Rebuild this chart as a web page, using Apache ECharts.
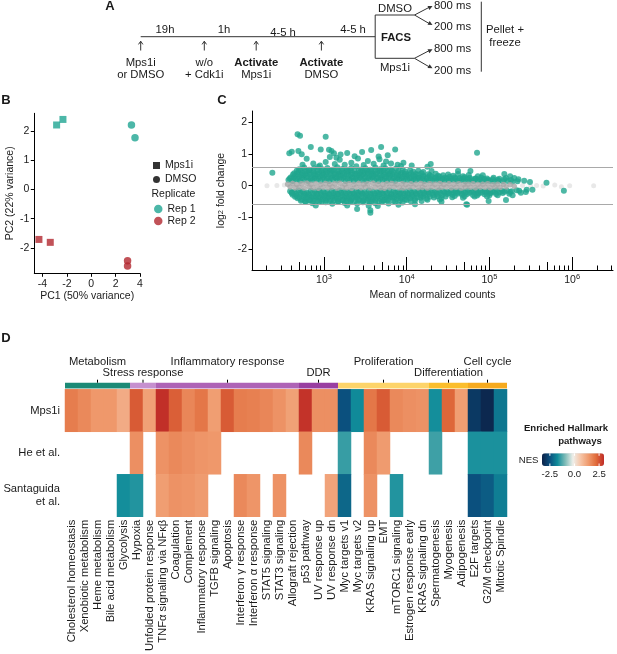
<!DOCTYPE html>
<html><head><meta charset="utf-8">
<script src="https://cdn.jsdelivr.net/npm/echarts@6/dist/echarts.min.js"></script>
<style>html,body{margin:0;padding:0;background:#fff}#chart{width:617px;height:654px}</style>
</head><body><div id="chart"></div>
<script>
// ---------------- Panel A (schematic) ----------------
const timelineDurations = ['19h', '1h', '4-5 h', '4-5 h'];
const timelineEvents = [['Mps1i', 'or DMSO'], ['w/o', '+ Cdk1i'], ['Activate', 'Mps1i'], ['Activate', 'DMSO']];
const eventBold = [false, false, true, true];
const facsArms = ['DMSO', 'FACS', 'Mps1i'];
const exposures = ['800 ms', '200 ms', '800 ms', '200 ms'];
const finalStep = ['Pellet +', 'freeze'];

// ---------------- Panel B (PCA) ----------------
const pcaTreatment = ['Mps1i', 'Mps1i', 'DMSO', 'DMSO', 'Mps1i', 'Mps1i', 'DMSO', 'DMSO'];
const pcaReplicate = ['Rep 1', 'Rep 1', 'Rep 1', 'Rep 1', 'Rep 2', 'Rep 2', 'Rep 2', 'Rep 2'];
const pcaPC1 = [-2.84, -2.32, 3.30, 3.59, -4.29, -3.36, 2.98, 2.98];
const pcaPC2 = [2.21, 2.40, 2.21, 1.77, -1.71, -1.81, -2.44, -2.62];
const pcaTicksX = [-4, -2, 0, 2, 4];
const pcaTicksY = [-2, -1, 0, 1, 2];
const replicateNames = ['Rep 1', 'Rep 2'];
const replicateColors = ['#1fa592', '#b1272e'];

// ---------------- Panel C (MA plot) : [log10 mean of normalized counts, log2 fold change] ----------------
const maSigPoints = [
 [2.57,0.18],[2.62,0.15],[2.66,0.2],[2.71,0.16],[2.76,0.19],[2.81,0.15],[2.86,0.18],[2.91,0.2],[2.96,0.16],[3.01,0.18],[3.06,0.15],[3.11,0.19],[3.16,0.17],[3.21,0.2],[3.26,0.15],[3.31,0.18],[3.36,0.16],[3.41,0.19],[3.46,0.17],[3.51,0.15],[3.56,0.2],[3.61,0.17],[3.66,0.15],[3.71,0.19],[3.76,0.16],[3.81,0.18],[3.86,0.15],[3.91,0.2],[3.96,0.16],[4.01,0.18],[4.06,0.15],[4.11,0.17],[4.16,0.19],[4.21,0.15],[4.26,0.17],[4.31,0.16],[4.36,0.18],[4.41,0.15],[4.46,0.17],[4.51,0.16],[4.56,0.18],[4.61,0.15],[4.66,0.17],[4.71,0.14],[4.76,0.16],[4.81,0.15],[4.86,0.17],[4.91,0.14],[4.96,0.16],[5.01,0.15],[5.06,0.13],[5.11,0.16],[5.16,0.14],[5.22,0.15],[5.28,0.13],[5.34,0.14],
 [2.585,0.23],[2.635,0.25],[2.685,0.22],[2.735,0.24],[2.785,0.26],[2.835,0.22],[2.885,0.24],[2.935,0.23],[2.985,0.25],[3.035,0.22],[3.085,0.24],[3.135,0.26],[3.185,0.23],[3.235,0.25],[3.285,0.22],[3.335,0.24],[3.385,0.23],[3.435,0.25],[3.485,0.22],[3.535,0.24],[3.585,0.26],[3.635,0.23],[3.685,0.24],[3.735,0.22],[3.785,0.25],[3.835,0.23],[3.885,0.24],[3.935,0.22],[3.985,0.25],[4.035,0.23],[4.085,0.21],[4.135,0.24],[4.185,0.22],[4.235,0.23],[4.285,0.21],[4.335,0.23],[4.385,0.22],[4.435,0.21],[4.485,0.23],[4.535,0.21],[4.585,0.22],[4.635,0.2],[4.685,0.22],[4.735,0.21],[4.785,0.2],[4.835,0.22],[4.885,0.2],[4.935,0.21],[4.985,0.19],[5.04,0.2],[5.1,0.19],[5.18,0.2],[5.26,0.18],
 [2.6,0.27],[2.65,0.31],[2.7,0.28],[2.75,0.33],[2.8,0.29],[2.85,0.26],[2.9,0.31],[2.95,0.29],[3.0,0.33],[3.05,0.28],[3.1,0.3],[3.15,0.27],[3.2,0.32],[3.25,0.29],[3.3,0.31],[3.35,0.27],[3.4,0.3],[3.45,0.33],[3.5,0.28],[3.55,0.3],[3.6,0.32],[3.65,0.27],[3.7,0.3],[3.75,0.29],[3.8,0.32],[3.85,0.27],[3.9,0.3],[3.95,0.28],[4.0,0.31],[4.05,0.27],[4.1,0.29],[4.15,0.26],[4.2,0.3],[4.25,0.27],[4.3,0.29],[4.35,0.26],[4.4,0.28],[4.46,0.25],[4.52,0.28],[4.58,0.26],[4.64,0.24],[4.7,0.27],[4.76,0.25],[4.83,0.23],[4.9,0.26],[4.97,0.23],[5.05,0.25],[5.12,0.22],[5.2,0.24],
 [2.625,0.35],[2.675,0.37],[2.725,0.34],[2.775,0.36],[2.825,0.38],[2.875,0.35],[2.925,0.37],[2.975,0.34],[3.025,0.36],[3.075,0.38],[3.125,0.35],[3.175,0.37],[3.225,0.34],[3.275,0.36],[3.325,0.35],[3.375,0.37],[3.425,0.34],[3.475,0.36],[3.525,0.38],[3.575,0.35],[3.625,0.37],[3.675,0.34],[3.725,0.36],[3.775,0.35],[3.825,0.37],[3.875,0.34],[3.925,0.36],[3.975,0.35],[4.025,0.34],[4.08,0.33],[4.14,0.35],[4.2,0.32],[4.28,0.33],[4.38,0.31],[4.44,0.33],[4.56,0.31],[4.68,0.3],[4.86,0.3],
 [2.64,0.39],[2.69,0.43],[2.74,0.4],[2.79,0.45],[2.84,0.41],[2.89,0.38],[2.94,0.44],[2.99,0.4],[3.04,0.42],[3.09,0.46],[3.14,0.39],[3.19,0.42],[3.24,0.4],[3.29,0.45],[3.34,0.41],[3.39,0.38],[3.44,0.43],[3.49,0.4],[3.54,0.44],[3.59,0.39],[3.64,0.42],[3.69,0.45],[3.74,0.4],[3.79,0.38],[3.84,0.42],[3.89,0.39],[3.94,0.41],[3.99,0.38],[4.05,0.4],[4.11,0.37],[4.18,0.39],[4.26,0.36],[4.35,0.38],[4.5,0.35],[4.62,0.37],[4.75,0.34],[4.92,0.33],
 [2.67,0.47],[2.72,0.49],[2.77,0.46],[2.82,0.48],[2.87,0.47],[2.92,0.49],[2.97,0.46],[3.02,0.48],[3.07,0.47],[3.12,0.49],[3.17,0.46],[3.22,0.48],[3.27,0.47],[3.32,0.49],[3.37,0.46],[3.42,0.48],[3.47,0.47],[3.52,0.49],[3.57,0.46],[3.62,0.48],[3.67,0.47],[3.72,0.49],[3.77,0.46],[3.82,0.47],[3.9,0.46],[3.98,0.45],[4.08,0.44],[4.2,0.43],
 [2.7,0.52],[2.76,0.57],[2.82,0.5],[2.88,0.55],[2.93,0.6],[2.98,0.52],[3.04,0.56],[3.1,0.5],[3.16,0.58],[3.22,0.53],[3.28,0.5],[3.33,0.56],[3.39,0.61],[3.45,0.51],[3.5,0.55],[3.56,0.5],[3.62,0.57],[3.68,0.52],[3.74,0.55],[3.8,0.5],[3.87,0.54],[3.95,0.51],[4.04,0.49],[4.14,0.47],[4.3,0.46],
 [2.74,0.66],[2.87,0.7],[2.95,0.64],[3.02,0.75],[3.13,0.68],[3.19,0.82],[3.25,0.66],[3.33,0.72],[3.41,0.86],[3.48,0.65],[3.53,0.78],[3.6,0.69],[3.67,0.83],[3.72,0.64],[3.81,0.7],[3.89,0.66],[3.93,0.62],[4.06,0.64],[4.25,0.6],[2.79,0.85],[3.07,0.9],[3.37,0.93],[3.15,0.88],
 [2.375,0.41],[2.68,1.62],[2.71,1.57],[3.02,1.54],[2.58,1.02],[2.61,1.07],[2.69,1.09],[2.73,0.99],[2.84,1.22],[2.96,1.14],[3.06,1.13],[3.09,1.09],[3.12,1.02],[3.2,0.98],[3.28,1.03],[3.46,1.06],[3.57,1.12],[3.69,1.22],[3.77,0.96],[3.86,1.14],[3.66,0.92],[3.75,0.76],[3.96,0.72],[4.29,0.68],[4.62,0.46],[4.77,0.46],[4.85,1.04],[5.18,0.37],[5.25,0.3],[5.3,0.24],[5.35,0.2],[5.42,0.16],[5.49,0.12],[5.69,0.09],
 [2.59,-0.17],[2.64,-0.2],[2.69,-0.15],[2.74,-0.18],[2.79,-0.21],[2.84,-0.16],[2.89,-0.19],[2.94,-0.15],[2.99,-0.18],[3.04,-0.2],[3.09,-0.16],[3.14,-0.19],[3.19,-0.15],[3.24,-0.18],[3.29,-0.2],[3.34,-0.16],[3.39,-0.19],[3.44,-0.17],[3.49,-0.2],[3.54,-0.15],[3.59,-0.18],[3.64,-0.2],[3.69,-0.16],[3.74,-0.19],[3.79,-0.15],[3.84,-0.18],[3.89,-0.2],[3.94,-0.16],[3.99,-0.18],[4.04,-0.15],[4.09,-0.19],[4.14,-0.17],[4.19,-0.15],[4.24,-0.18],[4.29,-0.16],[4.34,-0.19],[4.39,-0.15],[4.44,-0.17],[4.49,-0.19],[4.54,-0.15],[4.59,-0.17],[4.64,-0.16],[4.69,-0.18],[4.74,-0.15],[4.79,-0.17],[4.84,-0.14],[4.89,-0.16],[4.94,-0.18],[4.99,-0.15],[5.04,-0.17],[5.09,-0.14],[5.15,-0.16],[5.21,-0.15],[5.27,-0.17],[5.33,-0.14],
 [2.61,-0.23],[2.66,-0.25],[2.71,-0.22],[2.76,-0.24],[2.81,-0.26],[2.86,-0.23],[2.91,-0.25],[2.96,-0.22],[3.01,-0.24],[3.06,-0.26],[3.11,-0.23],[3.16,-0.25],[3.21,-0.22],[3.26,-0.24],[3.31,-0.23],[3.36,-0.25],[3.41,-0.22],[3.46,-0.24],[3.51,-0.26],[3.56,-0.23],[3.61,-0.25],[3.66,-0.22],[3.71,-0.24],[3.76,-0.23],[3.81,-0.25],[3.86,-0.22],[3.91,-0.24],[3.96,-0.23],[4.01,-0.25],[4.06,-0.22],[4.11,-0.24],[4.16,-0.22],[4.21,-0.23],[4.26,-0.21],[4.31,-0.23],[4.36,-0.22],[4.41,-0.24],[4.46,-0.21],[4.51,-0.23],[4.56,-0.22],[4.61,-0.21],[4.66,-0.23],[4.71,-0.21],[4.76,-0.22],[4.81,-0.2],[4.86,-0.22],[4.91,-0.21],[4.96,-0.2],[5.01,-0.22],[5.06,-0.2],[5.12,-0.21],[5.18,-0.19],[5.25,-0.2],
 [2.62,-0.28],[2.67,-0.32],[2.72,-0.27],[2.77,-0.31],[2.82,-0.29],[2.87,-0.33],[2.92,-0.27],[2.97,-0.3],[3.02,-0.32],[3.07,-0.28],[3.12,-0.31],[3.17,-0.27],[3.22,-0.3],[3.27,-0.33],[3.32,-0.28],[3.37,-0.31],[3.42,-0.29],[3.47,-0.27],[3.52,-0.32],[3.57,-0.29],[3.62,-0.31],[3.67,-0.27],[3.72,-0.3],[3.77,-0.33],[3.82,-0.28],[3.87,-0.3],[3.92,-0.27],[3.97,-0.31],[4.02,-0.28],[4.07,-0.3],[4.12,-0.27],[4.17,-0.31],[4.22,-0.28],[4.27,-0.26],[4.32,-0.29],[4.37,-0.27],[4.43,-0.3],[4.49,-0.26],[4.55,-0.28],[4.61,-0.25],[4.67,-0.28],[4.73,-0.26],[4.8,-0.29],[4.87,-0.25],[4.94,-0.27],[5.01,-0.24],[5.08,-0.26],[5.16,-0.23],[5.24,-0.25],
 [2.65,-0.35],[2.7,-0.37],[2.75,-0.34],[2.8,-0.36],[2.85,-0.38],[2.9,-0.35],[2.95,-0.37],[3.0,-0.34],[3.05,-0.36],[3.1,-0.35],[3.15,-0.37],[3.2,-0.34],[3.25,-0.36],[3.3,-0.38],[3.35,-0.35],[3.4,-0.37],[3.45,-0.34],[3.5,-0.36],[3.55,-0.35],[3.6,-0.37],[3.65,-0.34],[3.7,-0.36],[3.75,-0.38],[3.8,-0.35],[3.85,-0.36],[3.9,-0.34],[3.95,-0.37],[4.0,-0.35],[4.06,-0.34],[4.13,-0.36],[4.2,-0.33],[4.28,-0.35],[4.37,-0.33],[4.47,-0.34],[4.58,-0.32],[4.7,-0.33],[4.85,-0.31],[5.0,-0.3],
 [2.68,-0.39],[2.73,-0.43],[2.78,-0.4],[2.83,-0.45],[2.88,-0.41],[2.93,-0.38],[2.98,-0.43],[3.03,-0.4],[3.08,-0.44],[3.13,-0.39],[3.18,-0.42],[3.23,-0.46],[3.28,-0.4],[3.33,-0.43],[3.38,-0.38],[3.43,-0.42],[3.48,-0.45],[3.53,-0.4],[3.58,-0.43],[3.63,-0.39],[3.68,-0.42],[3.73,-0.45],[3.78,-0.4],[3.83,-0.38],[3.88,-0.42],[3.93,-0.4],[3.98,-0.43],[4.04,-0.39],[4.1,-0.41],[4.17,-0.38],[4.24,-0.4],[4.33,-0.37],[4.42,-0.39],[4.55,-0.36],[4.68,-0.38],[4.82,-0.34],[4.97,-0.33],[5.1,-0.3],
 [2.72,-0.47],[2.77,-0.49],[2.82,-0.46],[2.87,-0.48],[2.92,-0.47],[2.97,-0.49],[3.02,-0.46],[3.07,-0.48],[3.12,-0.47],[3.17,-0.49],[3.22,-0.46],[3.27,-0.48],[3.32,-0.47],[3.37,-0.49],[3.42,-0.46],[3.47,-0.48],[3.52,-0.47],[3.57,-0.49],[3.62,-0.46],[3.67,-0.48],[3.72,-0.47],[3.77,-0.46],[3.84,-0.48],[3.92,-0.46],[4.0,-0.45],[4.1,-0.46],[4.25,-0.44],[4.4,-0.43],
 [2.78,-0.51],[2.86,-0.55],[2.94,-0.5],[3.02,-0.52],[3.1,-0.57],[3.17,-0.51],[3.25,-0.54],[3.32,-0.5],[3.4,-0.56],[3.47,-0.52],[3.55,-0.5],[3.62,-0.55],[3.7,-0.51],[3.78,-0.56],[3.86,-0.5],[3.95,-0.53],[4.05,-0.49],[4.18,-0.48],[4.42,-0.5],[4.72,-0.58],
 [2.61,-0.21],[2.9,-0.62],[3.28,-0.62],[3.4,-0.73],[3.54,-0.63],[3.56,-0.77],[3.56,-0.85],[3.65,-0.64],[3.9,-0.6],[4.1,-0.58],[4.73,-0.6],[4.99,-0.48],[5.2,-0.45],[5.28,-0.3],[5.38,-0.22],[5.44,-0.2],[5.36,-0.16],[5.45,-0.13],[5.52,-0.13],[5.9,-0.16]
];
const maNsPoints = [
 [2.56,0.05],[2.62,0.07],[2.67,0.04],[2.73,0.06],[2.79,0.08],[2.84,0.05],[2.90,0.06],[2.96,0.04],[3.02,0.07],[3.07,0.05],[3.13,0.06],[3.19,0.08],[3.25,0.05],[3.30,0.06],[3.36,0.04],[3.42,0.07],[3.48,0.05],[3.53,0.06],[3.59,0.08],[3.65,0.05],[3.71,0.04],[3.76,0.06],[3.82,0.07],[3.88,0.05],[3.94,0.06],[3.99,0.04],[4.05,0.06],[4.11,0.05],[4.17,0.07],[4.22,0.04],[4.28,0.06],[4.34,0.05],[4.40,0.07],[4.45,0.04],[4.51,0.06],[4.57,0.05],[4.63,0.06],[4.69,0.04],[4.74,0.05],[4.80,0.06],[4.86,0.04],[4.92,0.05],[4.98,0.06],[5.04,0.03],[5.10,0.05],[5.17,0.04],[5.25,0.03],
 [2.59,-0.04],[2.65,-0.06],[2.70,-0.05],[2.76,-0.07],[2.82,-0.04],[2.87,-0.06],[2.93,-0.08],[2.99,-0.05],[3.05,-0.06],[3.10,-0.04],[3.16,-0.07],[3.22,-0.05],[3.27,-0.06],[3.33,-0.08],[3.39,-0.05],[3.45,-0.06],[3.50,-0.04],[3.56,-0.07],[3.62,-0.05],[3.68,-0.06],[3.73,-0.08],[3.79,-0.05],[3.85,-0.04],[3.91,-0.06],[3.96,-0.07],[4.02,-0.05],[4.08,-0.04],[4.14,-0.06],[4.19,-0.05],[4.25,-0.07],[4.31,-0.04],[4.37,-0.06],[4.42,-0.05],[4.48,-0.04],[4.54,-0.06],[4.60,-0.05],[4.66,-0.07],[4.71,-0.04],[4.77,-0.05],[4.83,-0.06],[4.89,-0.04],[4.95,-0.05],[5.01,-0.06],[5.07,-0.04],[5.13,-0.05],[5.20,-0.03],[5.30,-0.02]
];
const maLowCountPoints = [[2.31,0],[2.43,0.01],[2.52,0.02],[5.40,0.01],[5.50,-0.02],[5.57,0.01],[5.65,-0.01],[5.79,0.02],[5.87,-0.03],[5.97,0],[6.26,0]];
const maThresholds = [0.585, -0.585];
const maMajorTicks = [1e3, 1e4, 1e5, 1e6];
const maMidTicks = [500, 5000, 50000, 500000];
const maMinorTicks = [200,300,400,600,700,800,900,2000,3000,4000,6000,7000,8000,9000,20000,30000,40000,60000,70000,80000,90000,200000,300000,400000,600000,700000,800000,900000,2000000,3000000];
const maTicksY = [-2, -1, 0, 1, 2];

// ---------------- Panel D (heatmap) ----------------
const pathways = ['Cholesterol homeostasis','Xenobiotic metabolism','Heme metabolism','Bile acid metabolism','Glycolysis','Hypoxia','Unfolded protein response','TNFα signaling via NFκβ','Coagulation','Complement','Inflammatory response','TGFB signaling','Apoptosis','Interferon γ response','Interferon α response','STAT5 signaling','STAT3 signaling','Allograft rejection','p53 pathway','UV response up','UV response dn','Myc targets v1','Myc targets v2','KRAS signaling up','EMT','mTORC1 signaling','Estrogen response early','KRAS signaling dn','Spermatogenesis','Myogenesis','Adipogenesis','E2F targets','G2/M checkpoint','Mitotic Spindle'];
const studies = ['Mps1i', 'He et al.', 'Santaguida\net al.'];
const nesMps1i =      [1.9,1.7,1.45,1.45,1.1,2.4,1.3,2.95,2.35,1.75,2.0,1.35,2.4,1.9,1.85,1.75,1.55,1.3,2.9,1.6,1.6,-2.5,-1.75,2.0,2.4,1.7,1.6,1.55,-1.7,2.25,1.35,-2.9,-3.2,-2.0];
const nesHe =         [null,null,null,null,null,1.6,null,1.55,1.7,1.6,1.5,1.45,null,null,null,null,null,null,1.7,null,null,-1.45,null,1.7,1.4,null,null,null,-1.4,null,null,-1.65,-1.65,-1.65];
const nesSantaguida = [null,null,null,null,-1.7,-1.6,null,1.35,1.55,1.5,1.4,null,null,1.7,1.5,null,1.55,null,null,null,1.25,-2.2,null,1.55,null,-1.6,null,null,null,null,null,-2.5,-2.35,-1.9];
const nesRange = [-3.3, 3.0];
const nesTicks = [-2.5, 0, 2.5];
const nesColors = ['#0c2248','#0b4f7e','#108c9a','#7fbcb8','#efefea','#f6c4a6','#ef9a6d','#e06a3a','#bf2b27'];
const pathwayGroups = ['Metabolism','Stress response','Inflammatory response','DDR','Proliferation','Differentiation','Cell cycle'];
const groupSizes = [5, 2, 11, 3, 7, 3, 3];
const groupColors = ['#1b8a76','#c690cf','#ae63b6','#993fa1','#fdd46a','#fbbe2c','#f6aa1e'];
const groupLabelRow = [0, 1, 0, 1, 0, 1, 0];

// ---------------- build ----------------
const FONT = 'Liberation Sans, Arial, Helvetica, sans-serif';
const INK = '#1a1a1a';
function T(x, y, text, o) {
  o = o || {};
  return { type: 'text', x: x, y: y, silent: true, z: 10,
    style: { text: text, fontSize: o.fs || 11.3, fontWeight: o.bold ? 'bold' : 'normal', fontFamily: FONT,
      fill: INK, align: o.align || 'center', verticalAlign: 'middle' } };
}
function L(x1, y1, x2, y2, w) {
  return { type: 'line', silent: true, shape: { x1: x1, y1: y1, x2: x2, y2: y2 }, style: { stroke: '#333', lineWidth: w || 1 } };
}
function head(x1, y1, x2, y2, len, hw, filled) {
  const dx = x2 - x1, dy = y2 - y1, d = Math.hypot(dx, dy), ux = dx / d, uy = dy / d;
  const bx = x2 - ux * len, by = y2 - uy * len, nx = -uy, ny = ux;
  const pts = [[bx + nx * hw, by + ny * hw], [x2, y2], [bx - nx * hw, by - ny * hw]];
  return filled ? { type: 'polygon', silent: true, shape: { points: pts }, style: { fill: '#333' } }
                : { type: 'polyline', silent: true, shape: { points: pts }, style: { stroke: '#333', lineWidth: 1, fill: null } };
}
const G = [];
G.push(T(110, 6, 'A', { bold: true, fs: 13 }), T(6, 100, 'B', { bold: true, fs: 13 }), T(222, 100, 'C', { bold: true, fs: 13 }), T(6, 338.5, 'D', { bold: true, fs: 13 }));
const aY = 36.7, eventX = [140.7, 204.3, 256.2, 321.4], durX = [165, 224, 283, 353], durY = [30, 30, 32.5, 30];
G.push(L(140.7, aY, 375.2, aY));
timelineDurations.forEach((d, i) => G.push(T(durX[i], durY[i], d)));
timelineEvents.forEach((ev, i) => {
  G.push(L(eventX[i], 50.5, eventX[i], 41.5), head(eventX[i], 50.5, eventX[i], 41.2, 3.2, 2.2, false));
  G.push(T(eventX[i], 62.7, ev[0], { bold: eventBold[i] }), T(eventX[i], 75, ev[1]));
});
G.push(L(375.2, 15, 375.2, 58.3), L(375.2, 15, 414.5, 15), L(375.2, 58.3, 414.5, 58.3));
G.push(T(395, 9.3, facsArms[0]), T(396, 38.3, facsArms[1], { bold: true }), T(395, 68.3, facsArms[2]));
[[15, 6], [15, 25], [58.3, 49.3], [58.3, 68.3]].forEach((p, i) => {
  G.push(L(414.5, p[0], 430, p[1] + (p[0] - p[1]) * 0.1), head(414.5, p[0], 432.5, p[1], 4.5, 2.2, true));
  G.push(T(434, [6, 27.3, 49.3, 70.7][i], exposures[i], { align: 'left' }));
});
G.push(L(481.3, 1.7, 481.3, 71.7));
G.push(T(505, 30, finalStep[0]), T(505, 43.3, finalStep[1]));
G.push(T(151.5, 194.5, 'Replicate', { align: 'left', fs: 10.5 }));
G.push(T(566, 428.5, 'Enriched Hallmark', { bold: true, fs: 9.6 }), T(580, 441.7, 'pathways', { bold: true, fs: 9.6 }));
G.push(T(538.5, 460.5, 'NES', { align: 'right', fs: 9.6 }));
const barL = 542, barW = 62, barT = 453.3, barH = 12.7;
nesTicks.forEach(v => {
  const x = barL + (v - nesRange[0]) / (nesRange[1] - nesRange[0]) * barW;
  G.push({ type: 'line', silent: true, z: 20, shape: { x1: x, y1: barT, x2: x, y2: barT + 2.5 }, style: { stroke: '#fff', lineWidth: 1 } });
  G.push({ type: 'line', silent: true, z: 20, shape: { x1: x, y1: barT + barH - 2.5, x2: x, y2: barT + barH }, style: { stroke: '#fff', lineWidth: 1 } });
  G.push(T(x, 474.5, v.toFixed(1), { fs: 9.6 }));
});

function pcaSeries(rep, ci) {
  const data = [];
  pcaPC1.forEach((x, i) => {
    if (pcaReplicate[i] !== rep) return;
    const sq = pcaTreatment[i] === 'Mps1i';
    data.push({ value: [x, pcaPC2[i]], symbol: sq ? 'rect' : 'circle', symbolSize: sq ? 7 : 7.5 });
  });
  return { name: rep, type: 'scatter', xAxisIndex: 0, yAxisIndex: 0, data: data, itemStyle: { color: replicateColors[ci] } };
}
const heatData = [];
[nesMps1i, nesHe, nesSantaguida].forEach((row, r) => row.forEach((v, c) => { if (v !== null) heatData.push([c, r, v]); }));
const groupData = [];
let start = 0;
groupSizes.forEach((n, i) => { groupData.push([start, start + n - 1, i]); start += n; });

const log10 = v => Math.log10(v);
const axisText = { fontSize: 10.5, color: INK, fontFamily: FONT };
const blackLine = { onZero: false, lineStyle: { color: '#000', width: 1 } };

const option = {
  animation: false,
  textStyle: { fontFamily: FONT },
  grid: [
    { left: 34.3, top: 113.3, width: 105.7, height: 160 },
    { left: 252, top: 111, width: 361, height: 159 },
    { left: 65, top: 389.3, width: 442, height: 130.7 },
    { left: 65, top: 382.7, width: 442, height: 6.3 }
  ],
  xAxis: [
    { gridIndex: 0, type: 'value', min: -4.67, max: 4, position: 'bottom', splitLine: { show: false },
      axisLine: blackLine, axisTick: { customValues: pcaTicksX, length: 3.5, lineStyle: { color: '#000' } },
      axisLabel: Object.assign({ customValues: pcaTicksX, margin: 5 }, axisText),
      name: 'PC1 (50% variance)', nameLocation: 'middle', nameGap: 16.5, nameTextStyle: axisText },
    { gridIndex: 1, type: 'value', min: 2.129, max: 6.494, position: 'bottom', splitLine: { show: false },
      axisLine: blackLine, axisTick: { customValues: maMajorTicks.map(log10), inside: true, length: 13, lineStyle: { color: '#000' } },
      axisLabel: Object.assign({ customValues: maMajorTicks.map(log10), margin: 3, formatter: v => '10{sup|' + Math.round(v) + '}',
        rich: { sup: { fontSize: 7.5, padding: [0, 0, 6, 0], color: INK } } }, axisText),
      name: 'Mean of normalized counts', nameLocation: 'middle', nameGap: 19.5, nameTextStyle: axisText },
    { gridIndex: 1, type: 'value', min: 2.129, max: 6.494, position: 'bottom', splitLine: { show: false },
      axisLine: { show: false, onZero: false }, axisLabel: { show: false },
      axisTick: { customValues: maMidTicks.map(log10), inside: true, length: 8, lineStyle: { color: '#000' } } },
    { gridIndex: 1, type: 'value', min: 2.129, max: 6.494, position: 'bottom', splitLine: { show: false },
      axisLine: { show: false, onZero: false }, axisLabel: { show: false },
      axisTick: { customValues: maMinorTicks.map(log10), inside: true, length: 4.5, lineStyle: { color: '#000' } } },
    { gridIndex: 2, type: 'category', data: pathways, position: 'bottom', axisLine: { show: false }, axisTick: { show: false },
      axisLabel: { interval: 0, rotate: 90, margin: 3, fontSize: 11.2, color: INK, fontFamily: FONT } },
    { gridIndex: 3, type: 'category', data: pathways, show: false }
  ],
  yAxis: [
    { gridIndex: 0, type: 'value', min: -2.87, max: 2.61, splitLine: { show: false },
      axisLine: Object.assign({ show: true }, blackLine), axisTick: { show: true, customValues: pcaTicksY, length: 3.5, lineStyle: { color: '#000' } },
      axisLabel: Object.assign({ customValues: pcaTicksY, margin: 5 }, axisText),
      name: 'PC2 (22% variance)', nameLocation: 'middle', nameGap: 19, nameTextStyle: axisText },
    { gridIndex: 1, type: 'value', min: -2.65, max: 2.35, splitLine: { show: false },
      axisLine: Object.assign({ show: true }, blackLine), axisTick: { show: true, customValues: maTicksY, length: 3.5, lineStyle: { color: '#000' } },
      axisLabel: Object.assign({ customValues: maTicksY, margin: 5 }, axisText),
      name: 'log{sub|2} fold change', nameLocation: 'middle', nameGap: 18,
      nameTextStyle: Object.assign({ rich: { sub: { fontSize: 7.5, padding: [0, 0, 0, 0], color: INK } } }, axisText) },
    { gridIndex: 2, type: 'category', data: studies, inverse: true, axisLine: { show: false }, axisTick: { show: false },
      axisLabel: { margin: 5, fontSize: 11.2, lineHeight: 12.4, color: INK, fontFamily: FONT, align: 'right' } },
    { gridIndex: 3, type: 'value', min: 0, max: 1, show: false }
  ],
  legend: [
    { data: [{ name: 'Mps1i', icon: 'rect', itemStyle: { color: '#000' } }, { name: 'DMSO', icon: 'circle', itemStyle: { color: '#000' } }],
      orient: 'vertical', left: 153, top: 160, itemWidth: 7, itemHeight: 7, itemGap: 3, padding: 0, selectedMode: false,
      textStyle: { fontSize: 10.5, color: INK, fontFamily: FONT } },
    { data: [{ name: 'Rep 1', icon: 'circle' }, { name: 'Rep 2', icon: 'circle' }],
      orient: 'vertical', left: 154, top: 203.5, itemWidth: 8.5, itemHeight: 8.5, itemGap: 1, padding: 0, selectedMode: false,
      textStyle: { fontSize: 10.5, color: INK, fontFamily: FONT } }
  ],
  visualMap: {
    type: 'continuous', seriesIndex: 7, min: nesRange[0], max: nesRange[1], orient: 'horizontal',
    left: barL, top: barT, itemWidth: barH, itemHeight: barW, calculable: false, text: null, padding: 0,
    hoverLink: false, inRange: { color: nesColors }, textStyle: { fontSize: 0 }
  },
  series: [
    { name: 'Mps1i', type: 'scatter', data: [], xAxisIndex: 0, yAxisIndex: 0, itemStyle: { color: '#000' } },
    { name: 'DMSO', type: 'scatter', data: [], xAxisIndex: 0, yAxisIndex: 0, itemStyle: { color: '#000' } },
    pcaSeries('Rep 1', 0),
    pcaSeries('Rep 2', 1),
    { type: 'scatter', xAxisIndex: 1, yAxisIndex: 1, data: maLowCountPoints, symbolSize: 5, itemStyle: { color: '#e2e2e2' }, silent: true,
      markLine: { silent: true, symbol: 'none', label: { show: false }, lineStyle: { color: '#a9a9a9', width: 1, type: 'solid' },
        data: maThresholds.map(v => ({ yAxis: v })) } },
    { type: 'scatter', xAxisIndex: 1, yAxisIndex: 1, data: maSigPoints, symbolSize: 6, itemStyle: { color: '#21a68f' }, silent: true },
    { type: 'scatter', xAxisIndex: 1, yAxisIndex: 1, data: maNsPoints, symbolSize: 5.5, itemStyle: { color: '#a6a6a6' }, silent: true },
    { type: 'heatmap', xAxisIndex: 4, yAxisIndex: 2, data: heatData, silent: true, itemStyle: { borderWidth: 0 }, emphasis: { disabled: true } },
    { type: 'custom', xAxisIndex: 5, yAxisIndex: 3, data: groupData, clip: false, silent: true,
      renderItem: function (params, api) {
        const gi = api.value(2);
        const bw = api.size([1, 0])[0];
        const x0 = api.coord([api.value(0), 0])[0] - bw / 2;
        const x1 = api.coord([api.value(1), 0])[0] + bw / 2;
        const top = params.coordSys.y, h = params.coordSys.height, cx = (x0 + x1) / 2;
        return { type: 'group', children: [
          { type: 'rect', shape: { x: x0, y: top, width: x1 - x0, height: h - 1 }, style: { fill: groupColors[gi] } },
          { type: 'rect', shape: { x: x0, y: top + h - 1, width: x1 - x0, height: 1 }, style: { fill: groupColors[gi], opacity: 0.45 } },
          { type: 'line', shape: { x1: cx, y1: top - 3, x2: cx, y2: top }, style: { stroke: '#000', lineWidth: 1 } },
          { type: 'text', x: cx, y: top - (groupLabelRow[gi] ? 9.4 : 20.7),
            style: { text: pathwayGroups[gi], align: 'center', verticalAlign: 'middle', fontSize: 11.2, fontFamily: FONT, fill: INK } }
        ] };
      } }
  ],
  graphic: { elements: G }
};
const chart = echarts.init(document.getElementById('chart'), null, { renderer: 'canvas', width: 617, height: 654 });
chart.setOption(option);
</script></body></html>
